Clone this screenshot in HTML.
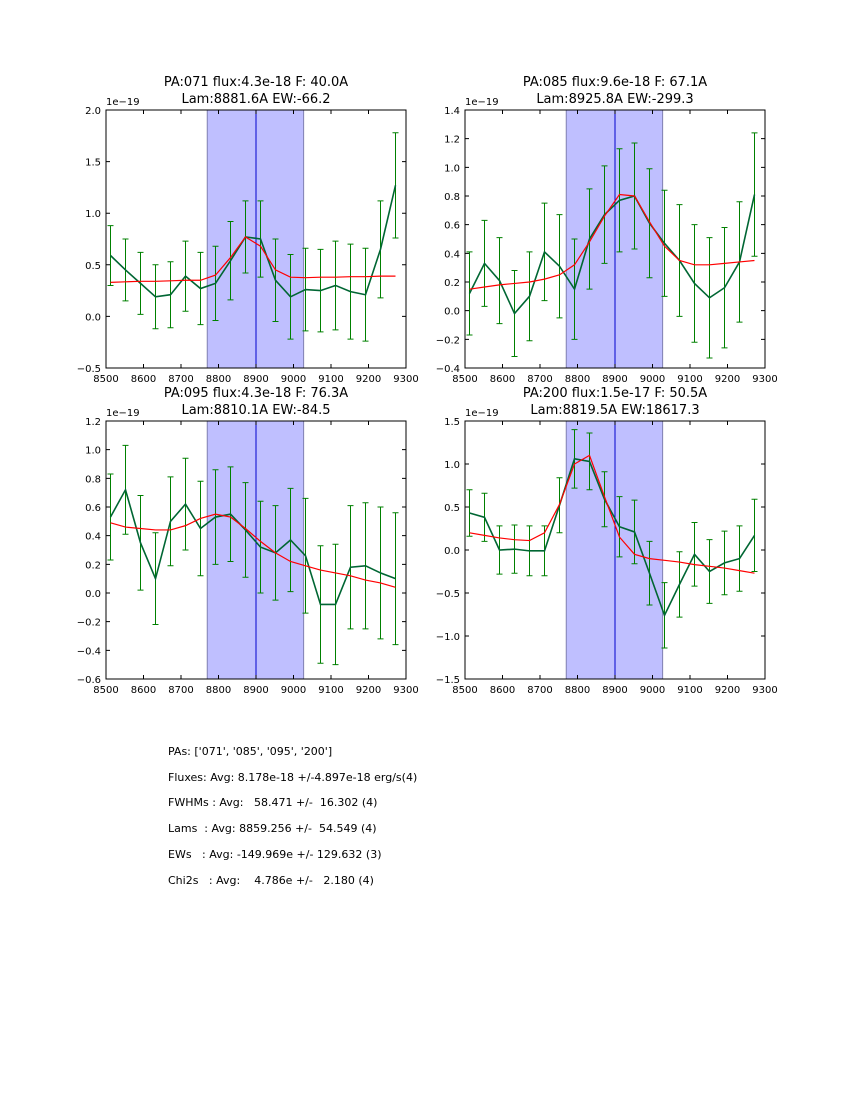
<!DOCTYPE html>
<html><head><meta charset="utf-8"><style>
body{margin:0;background:#fff;font-family:"DejaVu Sans","Liberation Sans",sans-serif;}
#wrap{position:relative;width:850px;height:1100px;}
.stat{position:absolute;left:168px;font-size:11px;white-space:pre;color:#000;}
svg text{font-family:"DejaVu Sans","Liberation Sans",sans-serif;}
</style></head><body><div id="wrap">
<svg id="fig" width="850" height="1100" style="position:absolute;left:0;top:0"></svg>
<div class="stat" style="top:745px">PAs: ['071', '085', '095', '200']</div>
<div class="stat" style="top:771px">Fluxes: Avg: 8.178e-18 +/-4.897e-18 erg/s(4)</div>
<div class="stat" style="top:796px">FWHMs : Avg:   58.471 +/-  16.302 (4)</div>
<div class="stat" style="top:822px">Lams  : Avg: 8859.256 +/-  54.549 (4)</div>
<div class="stat" style="top:848px">EWs   : Avg: -149.969e +/- 129.632 (3)</div>
<div class="stat" style="top:874px">Chi2s   : Avg:    4.786e +/-   2.180 (4)</div>
</div>
<script>
const wav=[8512,8552,8592,8632,8672,8712,8752,8792,8832,8872,8912,8952,8992,9032,9072,9112,9152,9192,9232,9272];
const titles1=["PA:071 flux:4.3e-18 F: 40.0A","PA:085 flux:9.6e-18 F: 67.1A","PA:095 flux:4.3e-18 F: 76.3A","PA:200 flux:1.5e-17 F: 50.5A"];
const titles2=["Lam:8881.6A EW:-66.2","Lam:8925.8A EW:-299.3","Lam:8810.1A EW:-84.5","Lam:8819.5A EW:18617.3"];
const flux1=[0.59,0.45,0.32,0.19,0.21,0.39,0.27,0.32,0.54,0.77,0.75,0.35,0.19,0.26,0.25,0.30,0.24,0.21,0.65,1.27];
const err1=[0.29,0.30,0.30,0.31,0.32,0.34,0.35,0.36,0.38,0.35,0.37,0.40,0.41,0.40,0.40,0.43,0.46,0.45,0.47,0.51];
const fit1=[0.33,0.335,0.34,0.34,0.345,0.35,0.35,0.40,0.57,0.77,0.68,0.45,0.38,0.375,0.38,0.38,0.385,0.385,0.39,0.39];
const flux2=[0.12,0.33,0.21,-0.02,0.10,0.41,0.31,0.15,0.50,0.67,0.77,0.80,0.61,0.47,0.35,0.19,0.09,0.16,0.34,0.81];
const err2=[0.29,0.30,0.30,0.30,0.31,0.34,0.36,0.35,0.35,0.34,0.36,0.37,0.38,0.37,0.39,0.41,0.42,0.42,0.42,0.43];
const fit2=[0.15,0.165,0.18,0.19,0.20,0.22,0.25,0.32,0.48,0.66,0.81,0.80,0.62,0.45,0.35,0.32,0.32,0.33,0.34,0.35];
const flux3=[0.53,0.72,0.35,0.10,0.50,0.62,0.45,0.53,0.55,0.44,0.32,0.28,0.37,0.26,-0.08,-0.08,0.18,0.19,0.14,0.10];
const err3=[0.30,0.31,0.33,0.32,0.31,0.32,0.33,0.33,0.33,0.33,0.32,0.33,0.36,0.40,0.41,0.42,0.43,0.44,0.46,0.46];
const fit3=[0.49,0.46,0.45,0.44,0.44,0.47,0.52,0.55,0.53,0.45,0.36,0.28,0.22,0.19,0.16,0.14,0.12,0.09,0.07,0.04];
const flux4=[0.43,0.38,0.0,0.01,-0.01,-0.01,0.52,1.06,1.03,0.59,0.27,0.21,-0.27,-0.76,-0.40,-0.05,-0.25,-0.15,-0.10,0.17];
const err4=[0.27,0.28,0.28,0.28,0.29,0.29,0.32,0.34,0.33,0.32,0.35,0.37,0.37,0.38,0.38,0.37,0.37,0.37,0.38,0.42];
const fit4=[0.20,0.17,0.14,0.12,0.11,0.20,0.53,1.00,1.10,0.62,0.15,-0.05,-0.10,-0.12,-0.14,-0.17,-0.19,-0.21,-0.24,-0.27];
const xTicks=[8500,8600,8700,8800,8900,9000,9100,9200,9300];
const yTicks1=[-0.5,0.0,0.5,1.0,1.5,2.0];
const yTicks2=[-0.4,-0.2,0.0,0.2,0.4,0.6,0.8,1.0,1.2,1.4];
const yTicks3=[-0.6,-0.4,-0.2,0.0,0.2,0.4,0.6,0.8,1.0,1.2];
const yTicks4=[-1.5,-1.0,-0.5,0.0,0.5,1.0,1.5];
const band=[8770,9027];
const lineCenter=8900;

const NS="http://www.w3.org/2000/svg";
const svg=document.getElementById('fig');
function mk(tag,at,parent){const e=document.createElementNS(NS,tag);for(const k in at)e.setAttribute(k,at[k]);(parent||svg).appendChild(e);return e;}
const panels=[
 {L:106,T:110,flux:flux1,err:err1,fit:fit1,yt:yTicks1},
 {L:465,T:110,flux:flux2,err:err2,fit:fit2,yt:yTicks2},
 {L:106,T:421,flux:flux3,err:err3,fit:fit3,yt:yTicks3},
 {L:465,T:421,flux:flux4,err:err4,fit:fit4,yt:yTicks4}];
const W=300,H=258;
panels.forEach((p,i)=>{
 const g=mk('g',{});
 
 
 const ymin=p.yt[0],ymax=p.yt[p.yt.length-1];
 const X=v=>p.L+(v-8500)/800*W;
 const Y=v=>p.T+H-(v-ymin)/(ymax-ymin)*H;
 const sp=mk('rect',{x:X(band[0]),y:p.T,width:X(band[1])-X(band[0]),height:H,fill:'#bfbfff',stroke:'#8080b0','stroke-width':1},g);
 
 
 const vl=mk('line',{x1:X(lineCenter),x2:X(lineCenter),y1:p.T,y2:p.T+H,stroke:'#0000cc','stroke-width':1},g);
 
 
 p.flux.forEach((v,k)=>{
  const x=X(wav[k]),y1=Y(v+p.err[k]),y2=Y(v-p.err[k]);
  const eb=mk('path',{d:`M${x},${y1}V${y2}M${x-3},${y1}H${x+3}M${x-3},${y2}H${x+3}`,stroke:'#008000','stroke-width':1,fill:'none'},g);
  
  
 });
 const fl=mk('polyline',{points:p.flux.map((v,k)=>X(wav[k])+','+Y(v)).join(' '),fill:'none',stroke:'#006633','stroke-width':1.6},g);
 
 
 const ft=mk('polyline',{points:p.fit.map((v,k)=>X(wav[k])+','+Y(v)).join(' '),fill:'none',stroke:'#ff0000','stroke-width':1.2},g);
 
 
 const fr=mk('rect',{x:p.L,y:p.T,width:W,height:H,fill:'none',stroke:'#000','stroke-width':1},g);
 
 
 xTicks.forEach(t=>{
  const x=X(t);
  mk('path',{d:`M${x},${p.T+H}v-4M${x},${p.T}v4`,stroke:'#000'},g);
  const tx=mk('text',{x:x,y:p.T+H+14,'font-size':10,'text-anchor':'middle'},g);tx.textContent=t;
  
  
 });
 p.yt.forEach(t=>{
  const y=Y(t);
  mk('path',{d:`M${p.L},${y}h4M${p.L+W},${y}h-4`,stroke:'#000'},g);
  const tx=mk('text',{x:p.L-5,y:y+4,'font-size':10,'text-anchor':'end'},g);tx.textContent=(t<0?'\u2212':'')+Math.abs(t).toFixed(1);
  
  
 });
 const off=mk('text',{x:p.L,y:p.T-5,'font-size':10},g);off.textContent='1e\u221219';
 
 
 const t1=mk('text',{x:p.L+W/2,y:p.T-24,'font-size':13,'text-anchor':'middle'},g);t1.textContent=titles1[i];
 
 
 const t2=mk('text',{x:p.L+W/2,y:p.T-7,'font-size':13,'text-anchor':'middle'},g);t2.textContent=titles2[i];
 
 
});
</script></body></html>
